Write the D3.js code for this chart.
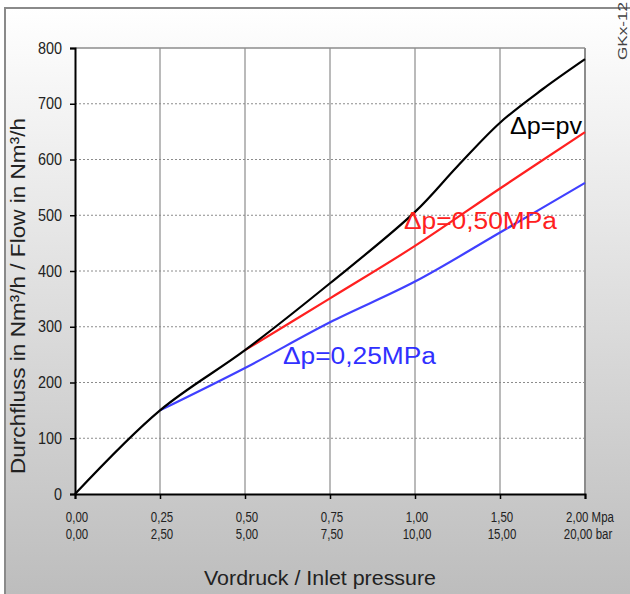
<!DOCTYPE html>
<html><head><meta charset="utf-8">
<script src="https://cdn.jsdelivr.net/npm/d3@7"></script>
<style>html,body{margin:0;padding:0;background:#fff;}svg{display:block;}</style>
</head><body>
<script>
const xTickValues = [0, 0.25, 0.5, 0.75, 1.0, 1.5, 2.0];
const xTickMpa = ["0,00", "0,25", "0,50", "0,75", "1,00", "1,50", "2,00 Mpa"];
const xTickBar = ["0,00", "2,50", "5,00", "7,50", "10,00", "15,00", "20,00 bar"];
const yTickValues = [0, 100, 200, 300, 400, 500, 600, 700, 800];

const pvPressure = [0, 0.25, 0.5, 0.75, 1.0, 1.25, 1.5, 1.75, 2.0];
const pvFlow = [0, 150, 258, 378, 506, 588, 666, 726, 780];
const dp050Pressure = [0.5, 0.75, 1.0, 1.5, 2.0];
const dp050Flow = [258, 351, 445, 548, 649];
const dp025Pressure = [0.25, 0.5, 0.75, 1.0, 1.5, 2.0];
const dp025Flow = [150, 226, 308, 381, 469, 558];

const W = 630, H = 594;
const L = 75, R = 585, T = 48, B = 494;
const FF = "Liberation Sans, Arial, sans-serif";

const svg = d3.select("body").append("svg").attr("width", W).attr("height", H);
const defs = svg.append("defs");
const grad = defs.append("linearGradient").attr("id", "bg").attr("x1", 0).attr("y1", 0).attr("x2", 0).attr("y2", 1);
grad.append("stop").attr("offset", "0%").attr("stop-color", "#ffffff");
grad.append("stop").attr("offset", "100%").attr("stop-color", "#bdbdbd");

svg.append("rect").attr("x", 0).attr("y", 0).attr("width", W).attr("height", H).attr("fill", "#fff");
svg.append("rect").attr("x", 5).attr("y", 8).attr("width", W - 5).attr("height", H - 8).attr("fill", "url(#bg)");
svg.append("path").attr("d", `M5,${H} L5,8 L${W},8`).attr("fill", "none").attr("stroke", "#8a8a8a").attr("stroke-width", 2);

const x = d3.scaleLinear().domain(xTickValues).range(xTickValues.map((d, i) => L + i * (R - L) / (xTickValues.length - 1)));
const y = d3.scaleLinear().domain([0, 800]).range([B, T]);

svg.append("rect").attr("x", L).attr("y", T).attr("width", R - L).attr("height", B - T).attr("fill", "#fff");

svg.append("g").selectAll("line").data(yTickValues.filter(d => d > 0 && d < 800)).join("line")
  .attr("x1", L).attr("x2", R).attr("y1", d => y(d)).attr("y2", d => y(d))
  .attr("stroke", "#8c8c8c").attr("stroke-width", 1).attr("stroke-dasharray", "2,2");
svg.append("g").selectAll("line").data(xTickValues.filter(d => d > 0)).join("line")
  .attr("x1", d => x(d)).attr("x2", d => x(d)).attr("y1", T).attr("y2", B)
  .attr("stroke", "#8c8c8c").attr("stroke-width", 1.2);
svg.append("line").attr("x1", L).attr("x2", R).attr("y1", T).attr("y2", T).attr("stroke", "#8c8c8c").attr("stroke-width", 1.5);
svg.append("line").attr("x1", R).attr("x2", R).attr("y1", T).attr("y2", B).attr("stroke", "#8c8c8c").attr("stroke-width", 2);

const yAxis = d3.axisLeft(y).tickValues(yTickValues).tickSize(5).tickPadding(8).tickFormat(d3.format("d"));
const gy = svg.append("g").attr("transform", `translate(${L},0)`).call(yAxis);
gy.select(".domain").attr("stroke", "#000").attr("stroke-width", 2);
gy.selectAll(".tick line").attr("stroke", "#000").attr("stroke-width", 1.5);
gy.selectAll(".tick text").attr("font-family", FF).attr("font-size", 16).attr("fill", "#222")
  .attr("transform", "scale(0.9,1)").attr("x", -13 / 0.9);

const xAxis = d3.axisBottom(x).tickValues(xTickValues).tickSize(5).tickFormat("");
const gx = svg.append("g").attr("transform", `translate(0,${B})`).call(xAxis);
gx.select(".domain").attr("stroke", "#000").attr("stroke-width", 2);
gx.selectAll(".tick line").attr("stroke", "#000").attr("stroke-width", 1.5);

const xl = svg.append("g").attr("font-family", FF).attr("font-size", 14).attr("fill", "#222").attr("text-anchor", "middle");
xl.selectAll("text.mpa").data(xTickValues).join("text").attr("class", "mpa")
  .attr("transform", (d, i) => `translate(${x(d) + 2 + (i === xTickValues.length - 1 ? 3 : 0)},522) scale(0.82,1)`)
  .text((d, i) => xTickMpa[i]);
xl.selectAll("text.bar").data(xTickValues).join("text").attr("class", "bar")
  .attr("transform", (d, i) => `translate(${x(d) + 2 + (i === xTickValues.length - 1 ? 1 : 0)},539) scale(0.82,1)`)
  .text((d, i) => xTickBar[i]);

svg.append("text").attr("x", 320).attr("y", 585).attr("text-anchor", "middle")
  .attr("font-family", FF).attr("font-size", 20).attr("fill", "#222")
  .attr("textLength", 232).attr("lengthAdjust", "spacingAndGlyphs")
  .text("Vordruck / Inlet pressure");
svg.append("text").attr("transform", "translate(25,296) rotate(-90)").attr("text-anchor", "middle")
  .attr("font-family", FF).attr("font-size", 20).attr("fill", "#222")
  .attr("textLength", 356).attr("lengthAdjust", "spacingAndGlyphs")
  .text("Durchfluss in Nm³/h  / Flow in Nm³/h");
svg.append("text").attr("transform", "translate(627,60) rotate(-90)").attr("text-anchor", "start")
  .attr("font-family", FF).attr("font-size", 12).attr("fill", "#444")
  .attr("textLength", 58).attr("lengthAdjust", "spacingAndGlyphs")
  .text("GKx-12");

const lineC = d3.line().x(d => x(d[0])).y(d => y(d[1])).curve(d3.curveCatmullRom.alpha(0.5));
function draw(ps, vs, color) {
  svg.append("path").datum(ps.map((p, i) => [p, vs[i]])).attr("d", lineC)
    .attr("fill", "none").attr("stroke", color).attr("stroke-width", 2.2);
}
draw(dp025Pressure, dp025Flow, "#4040ff");
draw(dp050Pressure, dp050Flow, "#ff2020");
draw(pvPressure, pvFlow, "#000");

svg.append("text").attr("x", 510).attr("y", 134).attr("font-family", FF).attr("font-size", 23).attr("fill", "#000")
  .attr("textLength", 72).attr("lengthAdjust", "spacingAndGlyphs").text("Δp=pv");
svg.append("text").attr("x", 404).attr("y", 229).attr("font-family", FF).attr("font-size", 23).attr("fill", "#ff2020")
  .attr("textLength", 153).attr("lengthAdjust", "spacingAndGlyphs").text("Δp=0,50MPa");
svg.append("text").attr("x", 283).attr("y", 364).attr("font-family", FF).attr("font-size", 23).attr("fill", "#3030ff")
  .attr("textLength", 153).attr("lengthAdjust", "spacingAndGlyphs").text("Δp=0,25MPa");
</script>
</body></html>
